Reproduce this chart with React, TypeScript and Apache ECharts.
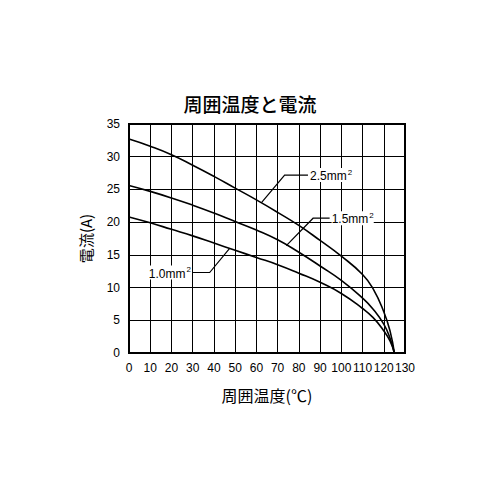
import React, { useEffect, useRef } from "react";
import * as echarts from "echarts";

const title = "周囲温度と電流";
const xName = "周囲温度(℃)";
const yName = "電流(A)";

const temps = [0, 10, 20, 30, 40, 50, 60, 70, 80, 90, 100, 110, 115, 120, 123, 125];
const cur25 = [32.7, 31.6, 30.3, 28.7, 27.0, 25.2, 23.4, 21.5, 19.5, 17.2, 14.8, 12.0, 9.8, 6.3, 3.3, 0];
const cur15 = [25.6, 24.7, 23.7, 22.6, 21.4, 20.1, 18.8, 17.3, 15.4, 13.3, 11.1, 8.4, 6.7, 4.4, 2.2, 0];
const cur10 = [20.8, 19.9, 18.9, 17.9, 16.8, 15.7, 14.6, 13.5, 12.2, 10.8, 9.1, 6.8, 5.4, 3.4, 1.8, 0];

const seriesNames = ["2.5mm", "1.5mm", "1.0mm"];

// leader lines in data coordinates: [start on curve, corner, end at label]
const leaders: number[][][] = [
  [[62.4, 23.0], [73.3, 27.2], [84.3, 27.2]],
  [[74.1, 16.4], [86.7, 20.6], [94.5, 20.6]],
  [[47.4, 16.0], [38.0, 12.3], [30.1, 12.3]],
];

const FONT = "'Liberation Sans', Arial, sans-serif";
const CJK = "'Noto Sans CJK JP', sans-serif";

export default function App() {
  const ref = useRef<HTMLDivElement>(null);
  useEffect(() => {
    if (!ref.current) return;
    const chart = echarts.init(ref.current, undefined, { renderer: "svg" });
    const mk = (arr: number[]) => temps.map((t, i) => [t, arr[i]]);
    const lineStyle = { color: "#000", width: 1.6 };
    chart.setOption({
      animation: false,
      backgroundColor: "#fff",
      title: {
        text: title,
        left: "center",
        top: 89,
        textStyle: { fontFamily: CJK, fontSize: 19, fontWeight: 500, color: "#000" },
      },
      grid: {
        left: 129,
        right: 95,
        top: 124,
        bottom: 147,
        show: true,
        borderColor: "#000",
        borderWidth: 2,
        backgroundColor: "transparent",
      },
      xAxis: {
        type: "value",
        min: 0,
        max: 130,
        interval: 10,
        name: xName,
        nameLocation: "middle",
        nameGap: 34,
        nameTextStyle: { fontFamily: CJK, fontSize: 16, fontWeight: "normal", color: "#000" },
        axisLine: { show: false },
        axisTick: { show: false },
        axisLabel: { fontFamily: FONT, fontSize: 12, color: "#000", margin: 9 },
        splitLine: { show: true, lineStyle: { color: "#000", width: 1 } },
      },
      yAxis: {
        type: "value",
        min: 0,
        max: 35,
        interval: 5,
        name: yName,
        nameLocation: "middle",
        nameGap: 36,
        nameTextStyle: { fontFamily: CJK, fontSize: 15, fontWeight: "normal", color: "#000" },
        axisLine: { show: false },
        axisTick: { show: false },
        axisLabel: { fontFamily: FONT, fontSize: 12, color: "#000", margin: 9 },
        splitLine: { show: true, lineStyle: { color: "#000", width: 1 } },
      },
      series: [cur25, cur15, cur10].map((arr, i) => ({
        name: seriesNames[i],
        type: "line",
        data: mk(arr),
        smooth: 0.5,
        showSymbol: false,
        symbol: "none",
        lineStyle,
        silent: true,
      })),
    });

    const graphics: any[] = [];
    leaders.forEach((pts, i) => {
      const px = pts.map((p) => chart.convertToPixel({ gridIndex: 0 }, p) as number[]);
      graphics.push({
        type: "polyline",
        shape: { points: px },
        style: { stroke: "#000", lineWidth: 1.2, fill: null },
        z: 10,
      });
      const end = px[px.length - 1];
      const rightSide = i < 2;
      graphics.push({
        type: "text",
        x: rightSide ? end[0] + 2 : end[0] - 2,
        y: end[1],
        style: {
          text: "{b|" + seriesNames[i] + "}{s|2}",
          align: rightSide ? "left" : "right",
          verticalAlign: "middle",
          backgroundColor: "#fff",
          rich: {
            b: { fontFamily: FONT, fontSize: 12, fill: "#000", lineHeight: 14, verticalAlign: "bottom" },
            s: { fontFamily: FONT, fontSize: 8, fill: "#000", lineHeight: 14, verticalAlign: "top", padding: [0, 0, 6, 1] },
          },
        },
        z: 10,
      });
    });
    chart.setOption({ graphic: graphics });

    return () => chart.dispose();
  }, []);
  return (
    <div
      ref={ref}
      style={{ position: "fixed", left: 0, top: 0, width: 500, height: 500, background: "#fff" }}
    />
  );
}
